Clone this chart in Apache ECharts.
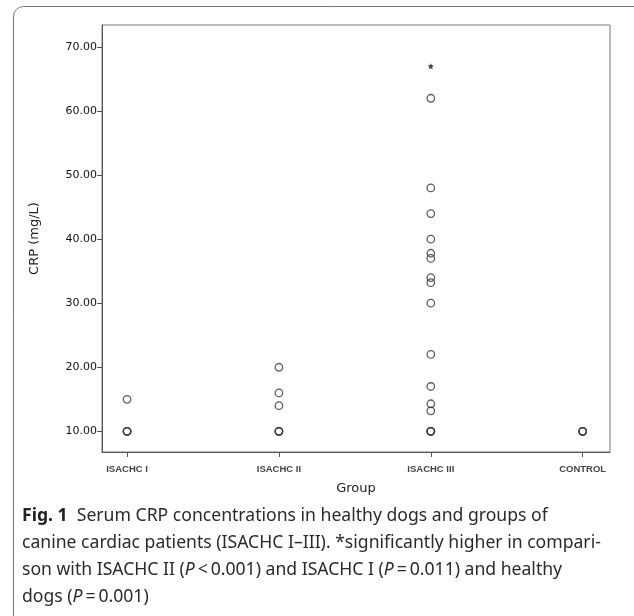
<!DOCTYPE html>
<html>
<head>
<meta charset="utf-8">
<script src="https://cdn.jsdelivr.net/npm/echarts@6/dist/echarts.min.js"></script>
<style>html,body{margin:0;padding:0;background:#fff}#c{width:634px;height:616px}</style>
</head>
<body>
<div id="c"></div>
<script>
// ---- data ----
var categories = ['ISACHC I', 'ISACHC II', 'ISACHC III', 'CONTROL'];
var isachc1 = [15, 10, 10, 10];
var isachc2 = [20, 16, 14, 10, 10, 10];
var isachc3 = [62, 48, 44, 40, 37.8, 37, 34, 33.2, 30, 22, 17, 14.3, 13.2, 10, 10, 10];
var control = [10, 10, 10];
var extremes = [[3, 67]];          // [group number, value] marked with *
var yTicks = [10, 20, 30, 40, 50, 60, 70];

var groups = [isachc1, isachc2, isachc3, control];
var circleData = [];
groups.forEach(function (vals, i) {
  vals.forEach(function (v) { circleData.push([i + 1, v]); });
});

var chart = echarts.init(document.getElementById('c'));
var axisCol = '#555';
chart.setOption({
  animation: false,
  grid: { left: 102, right: 24, top: 25, bottom: 164, show: true, borderColor: '#777', borderWidth: 1 },
  xAxis: {
    type: 'value', min: 0.835, max: 4.18,
    name: 'Group', nameLocation: 'middle', nameGap: 30,
    nameTextStyle: { fontFamily: 'DejaVu Sans', fontSize: 13, color: '#222' },
    axisLine: { show: true, lineStyle: { color: axisCol } },
    axisTick: { show: true, length: 5, customValues: [1, 2, 3, 4], lineStyle: { color: axisCol } },
    axisLabel: {
      customValues: [1, 2, 3, 4], margin: 12,
      formatter: function (v) { return categories[Math.round(v) - 1] || ''; },
      fontFamily: 'Liberation Sans', fontSize: 9.5, fontWeight: 'bold', color: '#444'
    },
    splitLine: { show: false }
  },
  yAxis: {
    type: 'value', min: 6.77, max: 73.44,
    name: 'CRP (mg/L)', nameLocation: 'middle', nameGap: 61, nameRotate: 90,
    nameTextStyle: { fontFamily: 'DejaVu Sans', fontSize: 13, color: '#222' },
    axisLine: { show: true, lineStyle: { color: axisCol } },
    axisTick: { show: true, length: 5, customValues: yTicks, lineStyle: { color: axisCol } },
    axisLabel: {
      customValues: yTicks, margin: 5,
      formatter: function (v) { return v.toFixed(2); },
      fontFamily: 'DejaVu Sans', fontSize: 11, color: '#111'
    },
    splitLine: { show: false }
  },
  series: [
    {
      type: 'scatter', data: circleData, symbol: 'circle', symbolSize: 7.5,
      itemStyle: { color: 'rgba(255,255,255,0)', borderColor: '#333', borderWidth: 1.3 }
    },
    {
      type: 'scatter', data: extremes,
      symbol: 'path://M0,-1 L0.29,-0.4 L0.95,-0.31 L0.47,0.15 L0.59,0.81 L0,0.5 L-0.59,0.81 L-0.47,0.15 L-0.95,-0.31 L-0.29,-0.4 Z',
      symbolSize: 6, itemStyle: { color: '#111' }
    }
  ],
  graphic: [
    { type: 'rect', silent: true, z: -1,
      shape: { x: 13.5, y: 6.5, width: 640, height: 640, r: 10 },
      style: { fill: 'none', stroke: '#777', lineWidth: 1 } },
    { type: 'text', left: 22, top: 502,
      style: {
        text: '{b|Fig. 1}  Serum CRP concentrations in healthy dogs and groups of\n' +
              'canine cardiac patients (ISACHC I\u2013III). *significantly higher in compari-\n' +
              'son with ISACHC II ({i|P}\u2009<\u20090.001) and ISACHC I ({i|P}\u2009=\u20090.011) and healthy\n' +
              'dogs ({i|P}\u2009=\u20090.001)',
        fontFamily: 'Noto Sans', fontSize: 17.6, lineHeight: 27, fill: '#2a2a2a',
        rich: {
          b: { fontFamily: 'Noto Sans', fontSize: 17.6, fontWeight: 'bold', fill: '#222', lineHeight: 27 },
          i: { fontFamily: 'Noto Sans', fontSize: 17.6, fontStyle: 'italic', fill: '#2a2a2a', lineHeight: 27 }
        }
      } }
  ]
});
</script>
</body>
</html>
